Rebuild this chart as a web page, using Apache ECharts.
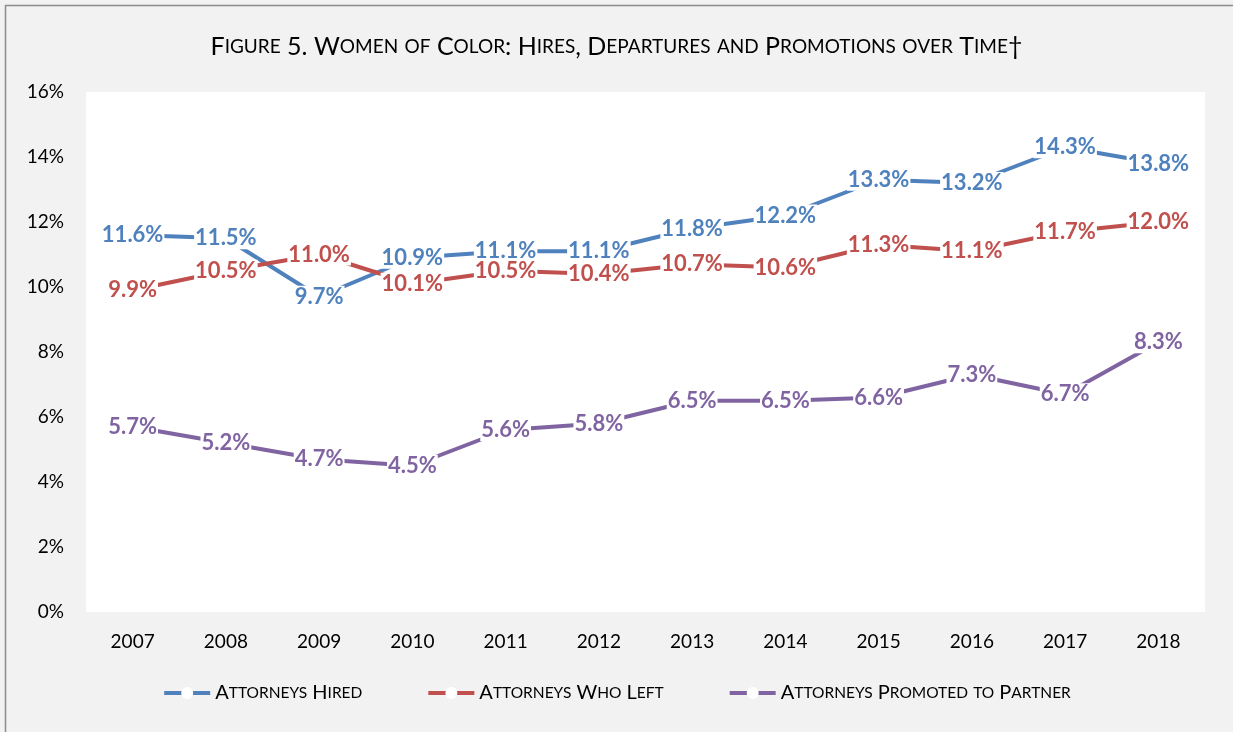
<!DOCTYPE html>
<html>
<head>
<meta charset="utf-8">
<script src="https://cdn.jsdelivr.net/npm/echarts@6/dist/echarts.min.js"></script>
<style>
  html, body { margin: 0; padding: 0; background: #f2f2f2; }
  #chart { width: 1233px; height: 732px; }
</style>
</head>
<body>
<div id="chart"></div>
<script>
  const years = ['2007', '2008', '2009', '2010', '2011', '2012', '2013', '2014', '2015', '2016', '2017', '2018'];
  const hired = [11.6, 11.5, 9.7, 10.9, 11.1, 11.1, 11.8, 12.2, 13.3, 13.2, 14.3, 13.8];
  const left = [9.9, 10.5, 11.0, 10.1, 10.5, 10.4, 10.7, 10.6, 11.3, 11.1, 11.7, 12.0];
  const promoted = [5.7, 5.2, 4.7, 4.5, 5.6, 5.8, 6.5, 6.5, 6.6, 7.3, 6.7, 8.3];
  const yTicks = [0, 2, 4, 6, 8, 10, 12, 14, 16];

  const titleText = 'Figure 5. Women of Color: Hires, Departures and Promotions over Time\u2020';
  const FONT = 'Lato, "Open Sans", sans-serif';

  // fake small caps: lowercase letters go uppercase in a smaller size
  function smallCaps(text) {
    let out = '';
    let run = '';
    let runSmall = null;
    for (const ch of text) {
      const isSmall = ch !== ch.toUpperCase();
      if (runSmall !== null && isSmall !== runSmall) {
        out += '{' + (runSmall ? 's' : 'b') + '|' + run + '}';
        run = '';
      }
      runSmall = isSmall;
      run += isSmall ? ch.toUpperCase() : ch;
    }
    if (run) out += '{' + (runSmall ? 's' : 'b') + '|' + run + '}';
    return out;
  }

  const colors = { hired: '#4f81bd', left: '#c0504d', promoted: '#8064a2' };

  function makeSeries(name, data, color) {
    return {
      name: name,
      type: 'line',
      data: data,
      symbol: 'circle',
      symbolSize: 7,
      showAllSymbol: true,
      itemStyle: { color: '#ffffff', borderColor: color, borderWidth: 0 },
      lineStyle: { color: color, width: 4 },
      emphasis: { disabled: true },
      label: {
        show: true,
        position: 'inside',
        color: color,
        fontFamily: FONT,
        fontWeight: 'bold',
        fontSize: 22,
        backgroundColor: '#ffffff',
        padding: [0, 1],
        formatter: p => p.value.toFixed(1) + '%'
      }
    };
  }

  const chart = echarts.init(document.getElementById('chart'));
  chart.setOption({
    backgroundColor: '#f2f2f2',
    animation: false,
    title: {
      text: smallCaps(titleText),
      left: 'center',
      top: 29,
      textStyle: {
        fontWeight: 'normal',
        rich: {
          b: { fontFamily: FONT, fontSize: 25, fontWeight: 'normal', color: '#000000' },
          s: { fontFamily: FONT, fontSize: 19, fontWeight: 'normal', color: '#000000' }
        }
      }
    },
    legend: {
      bottom: 24,
      left: 'center',
      itemWidth: 46,
      itemHeight: 15,
      itemGap: 64,
      lineStyle: { width: 4 },
      formatter: name => smallCaps(name),
      textStyle: {
        rich: {
          b: { fontFamily: FONT, fontSize: 20, color: '#000000' },
          s: { fontFamily: FONT, fontSize: 15.5, color: '#000000' }
        }
      },
      data: ['Attorneys Hired', 'Attorneys Who Left', 'Attorneys Promoted to Partner']
    },
    graphic: [{
      type: 'rect',
      shape: { x: 5.5, y: 5.5, width: 1400, height: 900 },
      style: { fill: 'none', stroke: '#8c8c8c', lineWidth: 1.5 },
      silent: true
    }],
    grid: {
      left: 86,
      right: 28,
      top: 92,
      bottom: 120,
      show: true,
      backgroundColor: '#ffffff',
      borderWidth: 0
    },
    xAxis: {
      type: 'category',
      data: years,
      boundaryGap: true,
      axisLine: { show: false },
      axisTick: { show: false },
      axisLabel: { fontFamily: FONT, fontSize: 19, color: '#000000', margin: 20 }
    },
    yAxis: {
      type: 'value',
      min: yTicks[0],
      max: yTicks[yTicks.length - 1],
      interval: 2,
      splitLine: { show: false },
      axisLine: { show: false },
      axisTick: { show: false },
      axisLabel: { fontFamily: FONT, fontSize: 19, color: '#000000', margin: 22, formatter: v => v + '%' }
    },
    series: [
      makeSeries('Attorneys Hired', hired, colors.hired),
      makeSeries('Attorneys Who Left', left, colors.left),
      makeSeries('Attorneys Promoted to Partner', promoted, colors.promoted)
    ]
  });
</script>
</body>
</html>
